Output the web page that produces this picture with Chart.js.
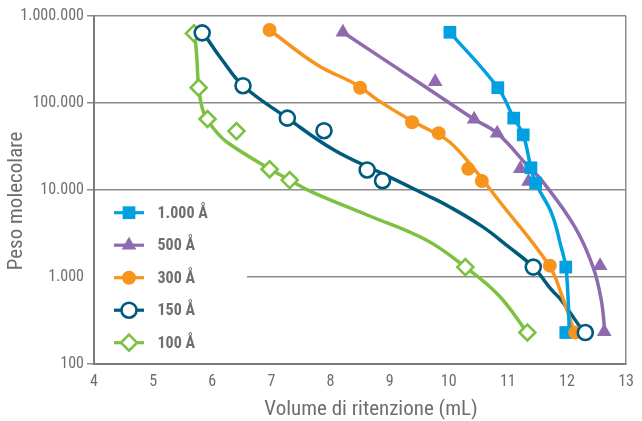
<!DOCTYPE html>
<html><head><meta charset="utf-8">
<script src="https://cdn.jsdelivr.net/npm/chart.js@4.4.1/dist/chart.umd.min.js"></script>
<style>html,body{margin:0;padding:0;background:#fff}canvas{display:block}</style>
</head><body>
<canvas id="c" width="642" height="421"></canvas>
<script>
// ---- data ----
const seriesNames = ['1.000 Å', '500 Å', '300 Å', '150 Å', '100 Å'];
const xTitle = 'Volume di ritenzione (mL)';
const yTitle = 'Peso molecolare';

// measured points (retention volume mL, molecular weight)
const vol1000 = [10.02, 10.83, 11.10, 11.26, 11.39, 11.47, 11.98, 11.98];
const mw1000  = [650000, 150000, 67000, 43000, 18000, 12000, 1300, 230];
const vol500  = [8.21, 9.77, 10.43, 10.82, 11.21, 11.35, 12.56, 12.63];
const mw500   = [650000, 175000, 65000, 45000, 17500, 12500, 1350, 235];
const vol300  = [6.97, 8.50, 9.38, 9.83, 10.33, 10.56, 11.71, 12.14];
const mw300   = [690000, 150000, 60000, 45000, 17500, 12700, 1350, 230];
const vol150  = [5.83, 6.52, 7.27, 7.89, 8.62, 8.88, 11.43, 12.31];
const mw150   = [640000, 158000, 67000, 48000, 17000, 12800, 1300, 230];
const vol100  = [5.69, 5.77, 5.92, 6.41, 6.97, 7.31, 10.28, 11.33];
const mw100   = [632000, 150000, 65500, 47600, 17300, 13000, 1300, 230];

// calibration curves
const fitVol1000 = [10.02, 10.83, 11.10, 11.26, 11.39, 11.47, 11.74, 11.90, 11.98, 12.02, 12.04];
const fitMw1000  = [650000, 150000, 67000, 43000, 18000, 12000, 5400, 2230, 1300, 544, 225];
const fitVol500  = [8.21, 9.62, 10.43, 10.82, 11.35, 11.57, 12.13, 12.44, 12.58, 12.64];
const fitMw500   = [650000, 151000, 65000, 45000, 18500, 13000, 3790, 1310, 544, 235];
const fitVol300  = [6.97, 7.78, 8.45, 8.80, 9.38, 9.67, 10.01, 10.40, 10.84, 11.70, 11.90, 12.13];
const fitMw300   = [690000, 273000, 161000, 108000, 62000, 49000, 35900, 18500, 7670, 1350, 650, 227];
const fitVol150  = [5.84, 6.19, 6.52, 7.27, 8.06, 8.89, 9.62, 10.01, 10.57, 11.01, 11.43, 11.74, 11.90, 12.24, 12.31];
const fitMw150   = [650000, 298000, 158000, 67000, 28800, 15300, 8770, 6430, 3790, 2230, 1300, 709, 544, 257, 230];
const fitVol100  = [5.70, 5.74, 5.77, 5.85, 6.02, 6.24, 6.97, 7.31, 7.67, 8.62, 9.62, 10.28, 10.84, 11.33];
const fitMw100   = [680000, 326000, 154000, 79400, 51200, 35900, 17500, 13000, 9560, 5160, 2660, 1300, 621, 230];

const yTicks = [100, 1000, 10000, 100000, 1000000];
const xMin = 4, xMax = 13;

// ---- styles ----
const FONT = "'Liberation Sans Narrow', 'Roboto Condensed', 'Liberation Sans', sans-serif";
const GRAY = '#6d6e71';
const colors = ['#00a0e1', '#8e6aaf', '#f7941d', '#005a7c', '#7cc142'];
const styles = [
  {pointStyle: 'rect', radius: 9, fill: true, bw: 0},
  {pointStyle: 'triangle', radius: 8.5, fill: true, bw: 0},
  {pointStyle: 'circle', radius: 7, fill: true, bw: 0},
  {pointStyle: 'circle', radius: 7.5, fill: false, bw: 2.6},
  {pointStyle: 'rectRot', radius: 8, fill: false, bw: 2.6}
];
const markerOrder = [3, 4, 2, 1, 5];

const pts = (xs, ys) => xs.map((x, i) => ({x, y: ys[i]}));
const markerSets = [[vol1000, mw1000], [vol500, mw500], [vol300, mw300], [vol150, mw150], [vol100, mw100]];
const fitSets = [[fitVol1000, fitMw1000], [fitVol500, fitMw500], [fitVol300, fitMw300], [fitVol150, fitMw150], [fitVol100, fitMw100]];

const datasets = [];
fitSets.forEach((s, i) => {
  datasets.push({
    label: seriesNames[i] + ' fit', data: pts(s[0], s[1]), showLine: true,
    borderColor: colors[i], borderWidth: 3.5, pointRadius: 0, pointHoverRadius: 0,
    tension: 0.4, fill: false, order: 10 + i
  });
});
markerSets.forEach((s, i) => {
  const st = styles[i];
  datasets.push({
    label: seriesNames[i], data: pts(s[0], s[1]), showLine: false,
    pointStyle: st.pointStyle, pointRadius: st.radius, pointHoverRadius: st.radius,
    backgroundColor: st.fill ? colors[i] : '#ffffff',
    borderColor: colors[i], pointBorderWidth: st.bw, borderWidth: st.bw,
    order: markerOrder[i]
  });
});

const fmt = v => String(Math.round(v)).replace(/\B(?=(\d{3})+(?!\d))/g, '.');

const legendPlugin = {
  id: 'innerLegend',
  beforeDatasetsDraw(chart) {
    const ctx = chart.ctx;
    const area = chart.chartArea;
    ctx.save();
    ctx.fillStyle = '#ffffff';
    ctx.fillRect(86, 196, 247 - 86, 362 - 196);
    ctx.strokeStyle = '#7a7a7a';
    ctx.lineWidth = 2;
    ctx.beginPath();
    ctx.moveTo(area.left, 194);
    ctx.lineTo(area.left, area.bottom);
    ctx.stroke();
    const y0 = 212.7, step = 32.5;
    seriesNames.forEach((name, i) => {
      const y = y0 + i * step;
      ctx.strokeStyle = colors[i];
      ctx.lineWidth = 3.2;
      ctx.beginPath();
      ctx.moveTo(114, y);
      ctx.lineTo(144, y);
      ctx.stroke();
      const st = styles[i];
      ctx.fillStyle = st.fill ? colors[i] : '#ffffff';
      ctx.strokeStyle = colors[i];
      ctx.lineWidth = st.bw;
      Chart.helpers.drawPoint(ctx, {pointStyle: st.pointStyle, radius: st.radius, borderWidth: st.bw, rotation: 0}, 129, y);
      ctx.fillStyle = GRAY;
      ctx.font = 'bold 16px ' + FONT;
      ctx.textBaseline = 'middle';
      ctx.textAlign = 'left';
      ctx.fillText(name, 157.5, y + 1);
    });
    ctx.restore();
  },
  afterDraw(chart) {
    const ctx = chart.ctx;
    ctx.save();
    ctx.fillStyle = GRAY;
    ctx.font = '21px ' + FONT;
    ctx.textAlign = 'center';
    ctx.textBaseline = 'middle';
    ctx.fillText(xTitle, 371, 410);
    ctx.translate(17, 201);
    ctx.rotate(-Math.PI / 2);
    ctx.fillText(yTitle, 0, 0);
    ctx.restore();
  }
};

new Chart(document.getElementById('c'), {
  type: 'scatter',
  data: {datasets},
  plugins: [legendPlugin],
  options: {
    responsive: false,
    devicePixelRatio: 1,
    animation: false,
    layout: {padding: {top: 16, right: 10, left: 0, bottom: 0}},
    plugins: {legend: {display: false}, tooltip: {enabled: false}},
    scales: {
      x: {
        type: 'linear', min: xMin, max: xMax,
        afterFit: s => { s.height = 57; },
        ticks: {stepSize: 1, color: GRAY, padding: 8, font: {family: FONT, size: 16}},
        grid: {
          drawTicks: false,
          color: c => (c.tick && c.tick.value === xMax) ? '#8c8c8c' : 'rgba(0,0,0,0)',
          lineWidth: 1.5
        },
        border: {display: true, color: '#7a7a7a', width: 2},
        title: {display: false}
      },
      y: {
        type: 'logarithmic', min: 100, max: 1000000,
        afterFit: s => { s.width = 94; },
        afterBuildTicks: s => { s.ticks = yTicks.map(v => ({value: v})); },
        ticks: {color: GRAY, padding: 3, font: {family: FONT, size: 16}, callback: v => fmt(v)},
        grid: {color: '#8c8c8c', lineWidth: 1.5, tickLength: 7, drawTicks: true},
        border: {display: true, color: '#7a7a7a', width: 2},
        title: {display: false}
      }
    }
  }
});
</script>
</body></html>
